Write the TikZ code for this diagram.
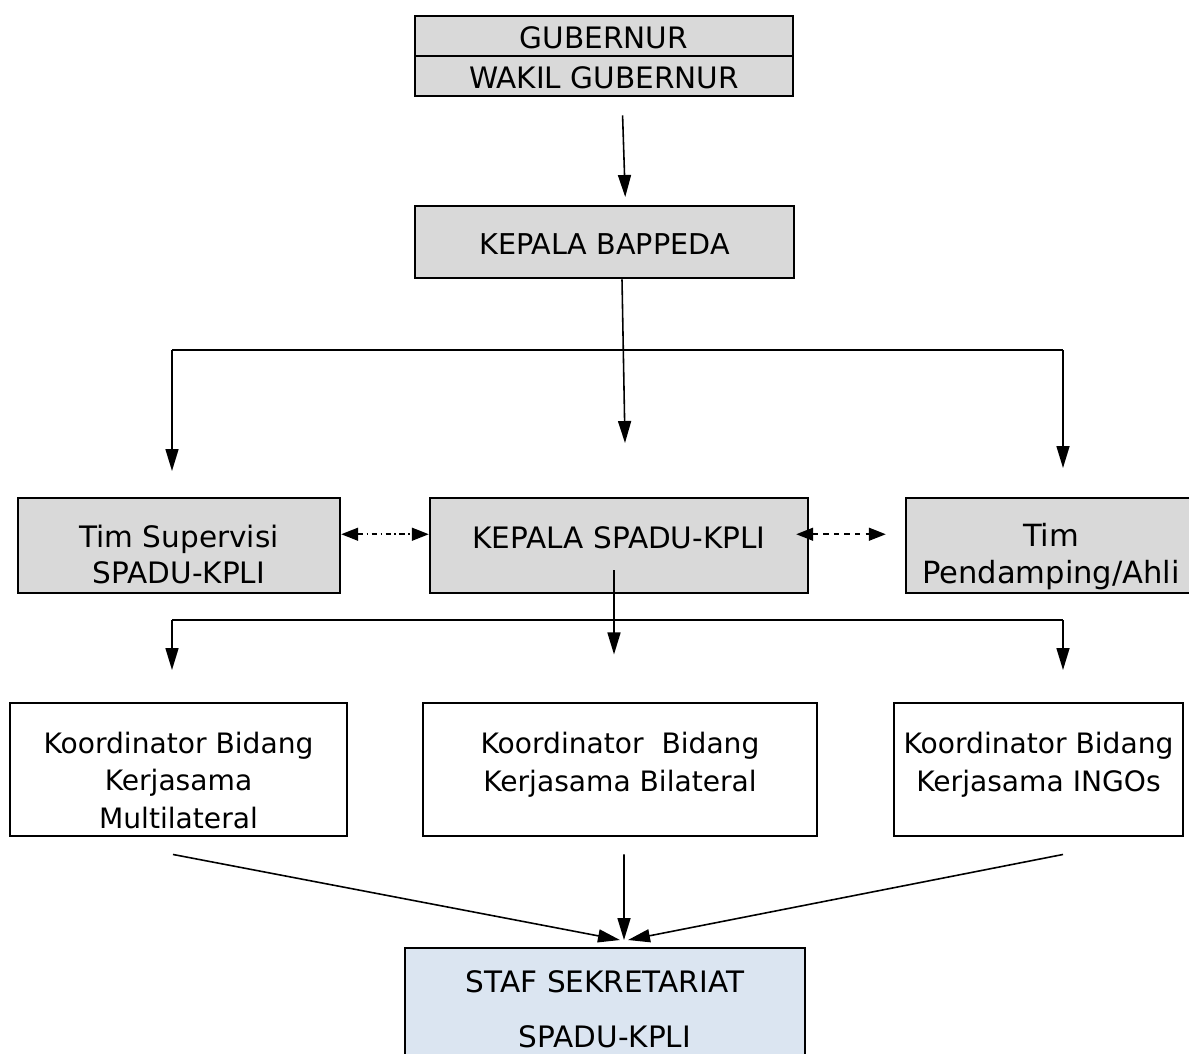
\documentclass[tikz,border=0pt]{standalone}
\usepackage{fontspec}
\setmainfont{DejaVu Sans}
\usetikzlibrary{arrows.meta}
\definecolor{boxgray}{HTML}{D9D9D9}
\definecolor{staffblue}{HTML}{DBE5F1}
\tikzset{
  every node/.style={font=\fontsize{16.8}{21.6}\selectfont},
  sidetext/.style={font=\fontsize{16.8}{20.5}\selectfont},
  smalltext/.style={font=\fontsize{16}{21.3}\selectfont},
  unit/.style={draw, line width=1.4pt, anchor=north, inner sep=0pt, align=center},
  graybox/.style={unit, fill=boxgray},
  arr/.style={-{Triangle[length=0.44cm,width=0.26cm]}, line width=0.9pt},
  twoway/.style={{Triangle[length=0.34cm,width=0.26cm]}-{Triangle[length=0.34cm,width=0.26cm]}, line width=0.9pt},
}
\begin{document}
\begin{tikzpicture}
\useasboundingbox (0,0) rectangle (23.78,-21.06);

\node[graybox, minimum width=7.56cm, text height=0.64cm, text depth=0.16cm] (gub) at (12.08,-0.30) {GUBERNUR};
\node[graybox, minimum width=7.56cm, text height=0.64cm, text depth=0.16cm] (wakil) at (12.08,-1.10) {WAKIL GUBERNUR};
\node[graybox, font=\fontsize{16.3}{21.6}\selectfont, minimum width=7.58cm, text height=0.96cm, text depth=0.48cm] (bappeda) at (12.09,-4.10) {KEPALA BAPPEDA};

\node[graybox, sidetext, minimum width=6.44cm, text height=1.70cm, text depth=0.20cm] (supervisi) at (3.58,-9.94) {Tim Supervisi\\SPADU-KPLI};
\node[graybox, minimum width=7.56cm, text height=1.0cm, text depth=0.9cm] (kepala) at (12.38,-9.94) {KEPALA SPADU-KPLI};
\node[graybox, font=\fontsize{17.4}{20.8}\selectfont, minimum width=5.80cm, text height=1.70cm, text depth=0.20cm] (pendamping) at (21.02,-9.94) {Tim\\Pendamping/Ahli};

\node[unit, smalltext, minimum width=6.74cm, text height=2.50cm, text depth=0.16cm] (multi) at (3.57,-14.04) {Koordinator Bidang\\Kerjasama\\Multilateral};
\node[unit, smalltext, minimum width=7.88cm, text height=1.76cm, text depth=0.90cm] (bilateral) at (12.40,-14.04) {Koordinator~ Bidang\\Kerjasama Bilateral};
\node[unit, smalltext, minimum width=5.78cm, text height=1.76cm, text depth=0.90cm] (ingos) at (20.77,-14.04) {Koordinator Bidang\\Kerjasama INGOs};

\node[unit, fill=staffblue, minimum width=8.0cm, text height=1.98cm, text depth=0.58cm] (staf) at (12.10,-18.94) {STAF SEKRETARIAT\\[9.7pt]SPADU-KPLI};

\coordinate (mid) at (12.50,-8.86);
\coordinate (lb) at (3.44,-7.00);
\coordinate (rb) at (21.26,-7.00);
\coordinate (lc) at (3.44,-12.40);
\coordinate (rc) at (21.26,-12.40);

\draw[arr, shorten <=0.36cm, shorten >=0.16cm] ([xshift=0.36cm]wakil.south) -- ([xshift=0.42cm]bappeda.north);
\draw[arr] ([xshift=0.35cm]bappeda.south) -- (mid);
\draw[line width=0.9pt] (lb) -- (rb);
\draw[arr] (lb) -- ++(0,-2.42);
\draw[arr] (rb) -- ++(0,-2.36);

\draw[twoway, dash dot] ([yshift=0.23cm]supervisi.east) -- ([yshift=0.23cm]kepala.west);
\draw[twoway, dashed] ([xshift=-0.26cm,yshift=0.23cm]kepala.east) -- ([xshift=-0.38cm,yshift=0.23cm]pendamping.west);

\draw[arr] ([xshift=-0.10cm,yshift=0.48cm]kepala.south) -- ++(0,-1.68);
\draw[line width=0.9pt] (lc) -- (rc);
\draw[arr] (lc) -- ++(0,-1.00);
\draw[arr] (rc) -- ++(0,-1.00);

\draw[arr] ([xshift=-0.11cm,yshift=-0.34cm]multi.south) -- ([xshift=0.30cm,yshift=0.14cm]staf.north);
\draw[arr] ([xshift=0.08cm,yshift=-0.34cm]bilateral.south) -- ([xshift=0.38cm,yshift=0.14cm]staf.north);
\draw[arr] ([xshift=0.49cm,yshift=-0.34cm]ingos.south) -- ([xshift=0.46cm,yshift=0.14cm]staf.north);
\end{tikzpicture}
\end{document}
